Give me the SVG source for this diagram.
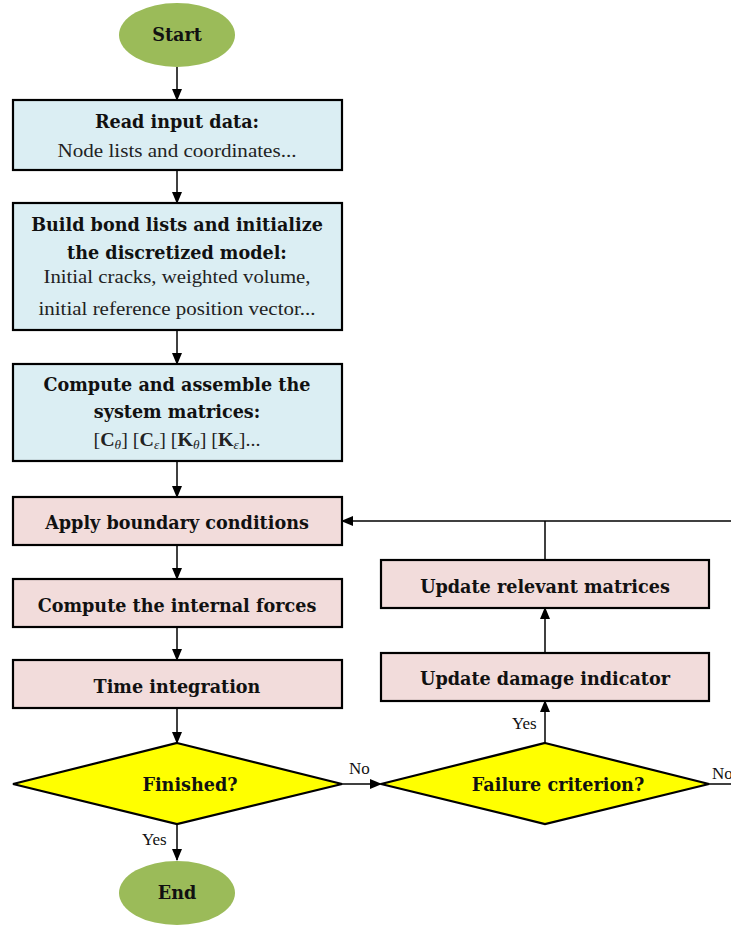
<svg xmlns="http://www.w3.org/2000/svg" width="731" height="927" viewBox="0 0 731 927">
<defs>
<marker id="ah" markerWidth="12" markerHeight="10" refX="11" refY="5" orient="auto" markerUnits="userSpaceOnUse">
<path d="M0,0 L12,5 L0,10 Z" fill="#000"/>
</marker>
<style>
.blue{fill:#dbeef3;stroke:#000;stroke-width:2.2}
.pink{fill:#f2dcdb;stroke:#000;stroke-width:2.2}
.term{fill:#9bbb59;stroke:none}
.dia{fill:#ffff00;stroke:#000;stroke-width:2.2}
.b{font-family:'DejaVu Serif',serif;font-weight:bold;font-size:17.6px;text-anchor:middle;fill:#111}
.r{font-family:'Liberation Serif',serif;font-size:18px;text-anchor:middle;fill:#222}
.l{font-family:'Liberation Serif',serif;font-size:17px;fill:#111}
.c{stroke:#000;stroke-width:1.5;fill:none}
</style>
</defs>
<rect width="731" height="927" fill="#fff"/>
<g id="connectors">
<line class="c" x1="177" y1="67" x2="177" y2="100" marker-end="url(#ah)"/>
<line class="c" x1="177" y1="170" x2="177" y2="203" marker-end="url(#ah)"/>
<line class="c" x1="177" y1="330" x2="177" y2="364" marker-end="url(#ah)"/>
<line class="c" x1="177" y1="461" x2="177" y2="497" marker-end="url(#ah)"/>
<line class="c" x1="177" y1="545" x2="177" y2="579" marker-end="url(#ah)"/>
<line class="c" x1="177" y1="627" x2="177" y2="660" marker-end="url(#ah)"/>
<line class="c" x1="177" y1="708" x2="177" y2="743" marker-end="url(#ah)"/>
<line class="c" x1="177" y1="824" x2="177" y2="860" marker-end="url(#ah)"/>
<text class="l" x="142" y="845">Yes</text>
<line class="c" x1="342" y1="784" x2="381" y2="784" marker-end="url(#ah)"/>
<text class="l" x="349" y="774">No</text>
<line class="c" x1="709" y1="784" x2="731" y2="784"/>
<text class="l" x="712" y="779">No</text>
<line class="c" x1="545" y1="743" x2="545" y2="701" marker-end="url(#ah)"/>
<text class="l" x="512" y="729">Yes</text>
<line class="c" x1="545" y1="653" x2="545" y2="608" marker-end="url(#ah)"/>
<line class="c" x1="545" y1="560" x2="545" y2="521"/>
<line class="c" x1="731" y1="521" x2="342" y2="521" marker-end="url(#ah)"/>
</g>
<g id="start">
<ellipse class="term" cx="177" cy="35" rx="58" ry="32"/>
<text class="b" x="177" y="41">Start</text>
</g>
<g id="read-input">
<rect class="blue" x="13" y="100" width="329" height="70"/>
<text class="b" x="177" y="128">Read input data:</text>
<text class="r" x="177" y="157" textLength="239" lengthAdjust="spacingAndGlyphs">Node lists and coordinates...</text>
</g>
<g id="build-bonds">
<rect class="blue" x="13" y="203" width="329" height="127"/>
<text class="b" x="177" y="231">Build bond lists and initialize</text>
<text class="b" x="177" y="259">the discretized model:</text>
<text class="r" x="177" y="283" textLength="267" lengthAdjust="spacingAndGlyphs">Initial cracks, weighted volume,</text>
<text class="r" x="177" y="315" textLength="277" lengthAdjust="spacingAndGlyphs">initial reference position vector...</text>
</g>
<g id="assemble">
<rect class="blue" x="13" y="364" width="329" height="97"/>
<text class="b" x="177" y="391">Compute and assemble the</text>
<text class="b" x="177" y="418">system matrices:</text>
<text class="r" x="177" y="446" textLength="167" lengthAdjust="spacingAndGlyphs">[<tspan font-weight="bold">C</tspan><tspan font-style="italic" font-size="12" dy="3">θ</tspan><tspan dy="-3">] [</tspan><tspan font-weight="bold">C</tspan><tspan font-style="italic" font-size="12" dy="3">ε</tspan><tspan dy="-3">] [</tspan><tspan font-weight="bold">K</tspan><tspan font-style="italic" font-size="12" dy="3">θ</tspan><tspan dy="-3">] [</tspan><tspan font-weight="bold">K</tspan><tspan font-style="italic" font-size="12" dy="3">ε</tspan><tspan dy="-3">]...</tspan></text>
</g>
<g id="boundary">
<rect class="pink" x="13" y="497" width="329" height="48"/>
<text class="b" x="177" y="529">Apply boundary conditions</text>
</g>
<g id="internal-forces">
<rect class="pink" x="13" y="579" width="329" height="48"/>
<text class="b" x="177" y="612">Compute the internal forces</text>
</g>
<g id="time-integration">
<rect class="pink" x="13" y="660" width="329" height="48"/>
<text class="b" x="177" y="693">Time integration</text>
</g>
<g id="finished">
<polygon class="dia" points="177,743 342,784 177,824 13,784"/>
<text class="b" x="190" y="791">Finished?</text>
</g>
<g id="end">
<ellipse class="term" cx="177" cy="893" rx="58" ry="32"/>
<text class="b" x="177" y="899">End</text>
</g>
<g id="failure">
<polygon class="dia" points="545,743 709,784 545,824 381,784"/>
<text class="b" x="558" y="791">Failure criterion?</text>
</g>
<g id="damage">
<rect class="pink" x="381" y="653" width="328" height="48"/>
<text class="b" x="545" y="685">Update damage indicator</text>
</g>
<g id="relevant">
<rect class="pink" x="381" y="560" width="328" height="48"/>
<text class="b" x="545" y="593">Update relevant matrices</text>
</g>
</svg>
